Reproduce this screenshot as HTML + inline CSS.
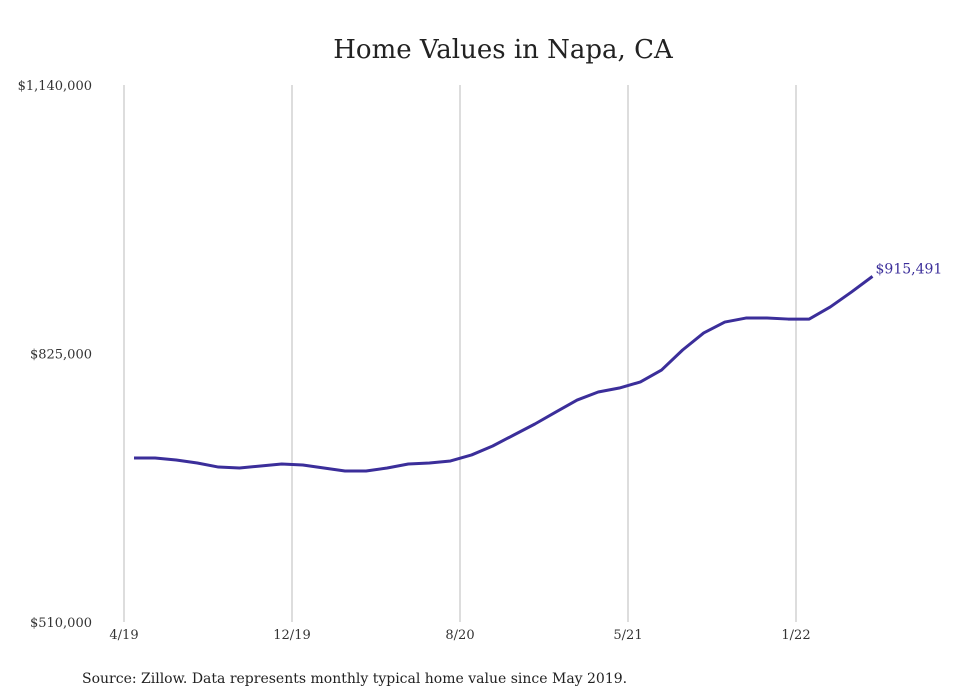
<!DOCTYPE html>
<html><head><meta charset="utf-8"><style>
body{margin:0;background:#fff;width:980px;height:699px;overflow:hidden;font-family:"DejaVu Serif","Liberation Serif",serif}
svg{display:block}
</style></head><body>
<svg width="980" height="699" font-family="DejaVu Serif, Liberation Serif, serif">
<text x="503" y="58" text-anchor="middle" font-size="26" fill="#222">Home Values in Napa, CA</text>
<g id="grid"></g>
<g id="yaxis"></g>
<g id="xaxis"></g>
<path id="line" fill="none" stroke="#3b2e9a" stroke-width="3" stroke-linejoin="round"/>
<text id="endlabel" font-size="14" fill="#3b2e9a"></text>
<text x="82" y="683" font-size="14" fill="#222">Source: Zillow. Data represents monthly typical home value since May 2019.</text>
</svg>
<script>
const values=[702400,702400,700000,696500,691800,690700,693000,695400,694200,690700,687200,687200,690700,695400,696500,698900,706000,716500,729400,742300,756400,770400,779800,784500,791600,805600,829100,849100,861900,866600,866600,865400,865400,879600,897100,915491];
const yTicks=[510000,825000,1140000];
const yTickLabels=["$510,000","$825,000","$1,140,000"];
const xTickLabels=["4/19","12/19","8/20","5/21","1/22"];
const xTickIdx=[-0.5,7.5,15.5,23.5,31.5];
const ns="http://www.w3.org/2000/svg";
const y=v=>622-(v-510000)/630000*537;
const x=i=>134+i*21.1;
function mk(t,a,p,txt){const e=document.createElementNS(ns,t);for(const k in a)e.setAttribute(k,a[k]);if(txt!==undefined)e.textContent=txt;p.appendChild(e);return e;}
const grid=document.getElementById('grid'),xa=document.getElementById('xaxis'),ya=document.getElementById('yaxis');
xTickIdx.forEach((ix,k)=>{
  const gx=124+168*k;
  const l=mk('line',{x1:gx,x2:gx,y1:85,y2:622,stroke:'#bbb','stroke-width':1},grid);
  
  
  const t=mk('text',{x:gx,y:639,'text-anchor':'middle','font-size':13,fill:'#333'},xa,xTickLabels[k]);
  
  
});
yTicks.forEach((v,k)=>{
  const t=mk('text',{x:92,y:y(v)+5,'text-anchor':'end','font-size':13,fill:'#333'},ya,yTickLabels[k]);
  
  
});
document.getElementById('line').setAttribute('d',values.map((v,i)=>(i?'L':'M')+x(i)+','+y(v)).join(''));
const n=values.length-1,el=document.getElementById('endlabel');
el.setAttribute('x',x(n)+3);el.setAttribute('y',y(values[n])-3);
el.textContent='$'+values[n].toLocaleString('en-US');
</script>
</body></html>
